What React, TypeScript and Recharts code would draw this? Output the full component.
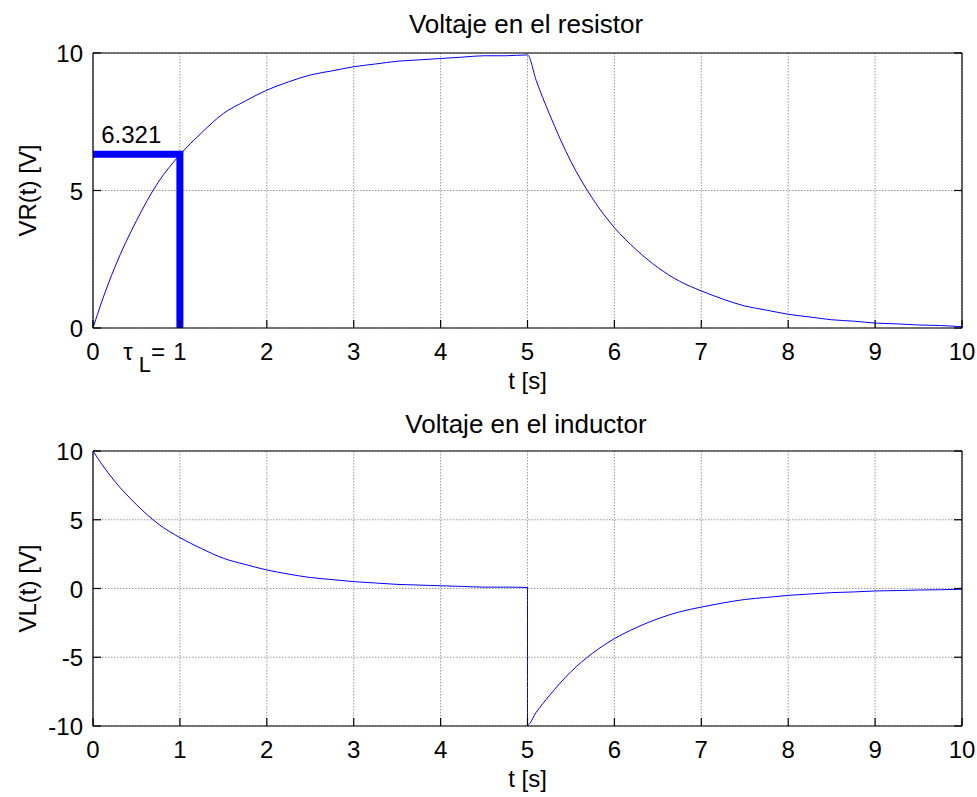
import { LineChart, Line, XAxis, YAxis, CartesianGrid, ReferenceDot, Label } from "recharts";

// time samples
const timeR = [0, 0.1, 0.25, 0.5, 0.75, 1, 1.25, 1.5, 1.75, 2, 2.25, 2.5, 2.75, 3, 3.25, 3.5, 3.75, 4, 4.25, 4.5, 4.75, 5, 5.1, 5.25, 5.5, 5.75, 6, 6.25, 6.5, 6.75, 7, 7.25, 7.5, 7.75, 8, 8.25, 8.5, 8.75, 9, 9.25, 9.5, 9.75, 10];
const vrValues = [0, 0.95, 2.2, 3.9, 5.3, 6.3, 7.1, 7.8, 8.25, 8.65, 8.95, 9.2, 9.35, 9.5, 9.6, 9.7, 9.75, 9.8, 9.85, 9.9, 9.9, 9.93, 9.0, 7.8, 6.05, 4.7, 3.65, 2.85, 2.2, 1.7, 1.35, 1.05, 0.8, 0.65, 0.5, 0.4, 0.3, 0.25, 0.18, 0.15, 0.11, 0.09, 0.05];

const timeL = [0, 0.1, 0.25, 0.5, 0.75, 1, 1.25, 1.5, 1.75, 2, 2.25, 2.5, 2.75, 3, 3.25, 3.5, 3.75, 4, 4.25, 4.5, 4.75, 5, 5, 5.1, 5.25, 5.5, 5.75, 6, 6.25, 6.5, 6.75, 7, 7.25, 7.5, 7.75, 8, 8.25, 8.5, 8.75, 9, 9.25, 9.5, 9.75, 10];
const vlValues = [10, 9.05, 7.8, 6.1, 4.7, 3.7, 2.9, 2.2, 1.75, 1.35, 1.05, 0.8, 0.65, 0.5, 0.4, 0.3, 0.25, 0.2, 0.15, 0.1, 0.1, 0.07, -9.93, -9.0, -7.8, -6.05, -4.7, -3.65, -2.85, -2.2, -1.7, -1.35, -1.05, -0.8, -0.65, -0.5, -0.4, -0.3, -0.25, -0.18, -0.15, -0.11, -0.09, -0.05];

// time constant marker
const tauTime = [0, 1, 1];
const tauVolt = [6.321, 6.321, 0];
const tauText = "6.321";

const tTicks = [0, 1, 2, 3, 4, 5, 6, 7, 8, 9, 10];
const vrTicks = [0, 5, 10];
const vlTicks = [-10, -5, 0, 5, 10];

const vrData = timeR.map((t, i) => ({ t, v: vrValues[i] }));
const vlData = timeL.map((t, i) => ({ t, v: vlValues[i] }));
const tauData = tauTime.map((t, i) => ({ t, v: tauVolt[i] }));

const FONT = "'Liberation Sans', Arial, Helvetica, sans-serif";
const BLUE = "#0000ff";
const TICK = 8;
const axisStyle = { stroke: "#000", strokeWidth: 1.2 };
const textStyle = { fontSize: 24, fontFamily: FONT, fill: "#000" };

function BottomTick(props: any) {
  const { x, y, payload, tau } = props;
  return (
    <g>
      <line x1={x} y1={y} x2={x} y2={y - TICK} stroke="#000" strokeWidth={1.2} />
      <text x={x} y={y + 32} textAnchor="middle" {...textStyle}>
        {payload.value}
      </text>
      {tau && payload.value === 1 && (
        <text x={x - 15} y={y + 32} textAnchor="end" {...textStyle}>
          τ
          <tspan dx={6} dy={12} fontSize={22}>L</tspan>
          <tspan dy={-12} fontSize={24}>=</tspan>
        </text>
      )}
    </g>
  );
}

function TopTick(props: any) {
  const { x, y } = props;
  return <line x1={x} y1={y} x2={x} y2={y + TICK} stroke="#000" strokeWidth={1.2} />;
}

function LeftTick(props: any) {
  const { x, y, payload } = props;
  return (
    <g>
      <line x1={x} y1={y} x2={x + TICK} y2={y} stroke="#000" strokeWidth={1.2} />
      <text x={x - 10} y={y + 9} textAnchor="end" {...textStyle}>
        {payload.value}
      </text>
    </g>
  );
}

function RightTick(props: any) {
  const { x, y } = props;
  return <line x1={x} y1={y} x2={x - TICK} y2={y} stroke="#000" strokeWidth={1.2} />;
}

interface PanelProps {
  top: number;
  height: number;
  marginTop: number;
  bottomH: number;
  title: string;
  titleOffset: number;
  labelOffset: number;
  yLabel: string;
  yDomain: number[];
  yTicks: number[];
  tau?: boolean;
  children?: any;
}

function Panel(p: PanelProps) {
  return (
    <div style={{ position: "absolute", left: 0, top: p.top, width: 977, height: p.height }}>
      <LineChart width={977} height={p.height} margin={{ top: p.marginTop, right: 14, bottom: 0, left: 0 }}>
        <CartesianGrid stroke="#9a9a9a" strokeDasharray="1.5 1.5" />
        <XAxis
          dataKey="t"
          type="number"
          domain={[0, 10]}
          ticks={tTicks}
          interval={0}
          height={p.bottomH}
          tickSize={0}
          tickMargin={0}
          tickLine={false}
          axisLine={axisStyle}
          tick={(tp: any) => <BottomTick {...tp} tau={p.tau} />}
          allowDataOverflow
        >
          <Label value="t [s]" position="insideBottom" offset={p.labelOffset} style={textStyle} />
        </XAxis>
        <XAxis
          xAxisId="top"
          orientation="top"
          type="number"
          domain={[0, 10]}
          ticks={tTicks}
          interval={0}
          height={1}
          tickSize={0}
          tickMargin={0}
          tickLine={false}
          axisLine={axisStyle}
          tick={(tp: any) => <TopTick {...tp} />}
          allowDataOverflow
        />
        <YAxis
          type="number"
          domain={p.yDomain}
          ticks={p.yTicks}
          interval={0}
          width={93}
          tickSize={0}
          tickMargin={0}
          tickLine={false}
          axisLine={axisStyle}
          tick={(tp: any) => <LeftTick {...tp} />}
          allowDataOverflow
        >
          <Label
            value={p.yLabel}
            angle={-90}
            position="insideLeft"
            offset={27}
            style={{ ...textStyle, textAnchor: "middle" }}
          />
        </YAxis>
        <YAxis
          yAxisId="right"
          orientation="right"
          type="number"
          domain={p.yDomain}
          ticks={p.yTicks}
          interval={0}
          width={1}
          tickSize={0}
          tickMargin={0}
          tickLine={false}
          axisLine={axisStyle}
          tick={(tp: any) => <RightTick {...tp} />}
          allowDataOverflow
        />
        {p.children}
      </LineChart>
      <svg
        width={977}
        height={p.marginTop}
        style={{ position: "absolute", left: 0, top: 0, pointerEvents: "none" }}
      >
        <text x={526} y={p.marginTop - p.titleOffset} textAnchor="middle" {...textStyle} fontSize={26}>
          {p.title}
        </text>
      </svg>
    </div>
  );
}

export default function App() {
  return (
    <div style={{ position: "absolute", left: 0, top: 0, width: 977, height: 797, background: "#fff" }}>
      <Panel
        top={0}
        height={400}
        marginTop={52}
        bottomH={72}
        title="Voltaje en el resistor"
        titleOffset={19}
        labelOffset={11}
        yLabel="VR(t) [V]"
        yDomain={[0, 10]}
        yTicks={vrTicks}
        tau
      >
        <Line data={vrData} dataKey="v" type="monotone" stroke={BLUE} strokeWidth={1} dot={false} activeDot={false} isAnimationActive={false} />
        <Line data={tauData} dataKey="v" type="linear" stroke={BLUE} strokeWidth={7} strokeLinejoin="miter" dot={false} activeDot={false} isAnimationActive={false} />
        <ReferenceDot x={0.44} y={tauVolt[0]} r={0} fill="none" stroke="none">
          <Label value={tauText} position="top" offset={11} style={textStyle} />
        </ReferenceDot>
      </Panel>
      <Panel
        top={400}
        height={397}
        marginTop={50}
        bottomH={71}
        title="Voltaje en el inductor"
        titleOffset={17}
        labelOffset={10}
        yLabel="VL(t) [V]"
        yDomain={[-10, 10]}
        yTicks={vlTicks}
      >
        <Line data={vlData} dataKey="v" type="monotone" stroke={BLUE} strokeWidth={1} dot={false} activeDot={false} isAnimationActive={false} />
      </Panel>
    </div>
  );
}
